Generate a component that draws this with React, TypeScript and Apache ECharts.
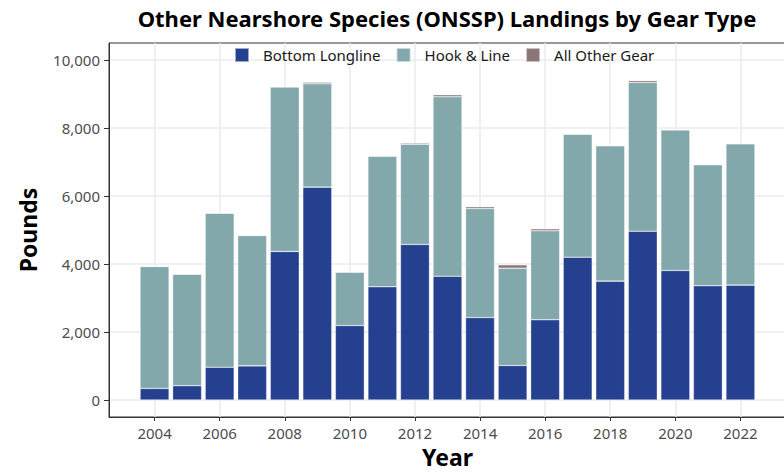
import React, { useEffect, useRef } from 'react';
import * as echarts from 'echarts';

const years = [2004, 2005, 2006, 2007, 2008, 2009, 2010, 2011, 2012, 2013, 2014, 2015, 2016, 2017, 2018, 2019, 2020, 2021, 2022];
const bottomLongline = [340, 420, 965, 1005, 4370, 6260, 2190, 3330, 4575, 3640, 2425, 1015, 2360, 4200, 3495, 4965, 3810, 3360, 3380];
const hookAndLine = [3586, 3280, 4529, 3833, 4840, 3040, 1570, 3841, 2949, 5278, 3207, 2861, 2616, 3618, 3981, 4373, 4136, 3557, 4155];
const allOtherGear = [0, 0, 0, 0, 0, 45, 15, 10, 35, 60, 55, 100, 60, 10, 10, 55, 10, 15, 0];
const seriesNames = ['Bottom Longline', 'Hook & Line', 'All Other Gear'];
const seriesColors = ['#24408F', '#82A8AC', '#8A7676'];
const xTickValues = [2004, 2006, 2008, 2010, 2012, 2014, 2016, 2018, 2020, 2022];
const yTickValues = [0, 2000, 4000, 6000, 8000, 10000];

export default function App() {
  const ref = useRef<HTMLDivElement>(null);
  useEffect(() => {
    document.body.style.margin = '0';
    const chart = echarts.init(ref.current!, null, { renderer: 'svg' });
    const font = '"Noto Sans", sans-serif';
    const valuesList = [bottomLongline, hookAndLine, allOtherGear];
    const series = seriesNames.map((name, k) => ({
      name,
      type: 'bar',
      stack: 'total',
      barWidth: 29,
      // value first so that the value dimension is the stacked one
      data: years.map((y, i) => [valuesList[k][i], y]),
      encode: { x: 1, y: 0 },
      itemStyle: { color: seriesColors[k], borderColor: 'rgba(255,255,255,0.55)', borderWidth: 0.6 },
      emphasis: { disabled: true },
    }));
    chart.setOption({
      animation: false,
      textStyle: { fontFamily: font },
      title: {
        text: 'Other Nearshore Species (ONSSP) Landings by Gear Type',
        left: 442,
        textAlign: 'center',
        top: 2,
        textStyle: { fontFamily: font, fontSize: 22, fontWeight: 'bold', color: '#000' },
      },
      legend: {
        data: seriesNames,
        left: 234,
        top: 47,
        padding: 0,
        icon: 'rect',
        itemWidth: 14,
        itemHeight: 14,
        itemGap: 15,
        selectedMode: false,
        textStyle: { fontFamily: font, fontSize: 15, color: '#1a1a1a', padding: [0, 0, 0, 9] },
      },
      grid: {
        left: 109,
        top: 43,
        width: 677,
        height: 374,
        show: true,
        borderColor: '#333',
        borderWidth: 1,
        containLabel: false,
        outerBoundsMode: 'none',
      },
      xAxis: {
        type: 'value',
        min: 2002.6,
        max: 2023.4,
        splitNumber: 10,
        name: 'Year',
        nameLocation: 'middle',
        nameGap: 28,
        nameTextStyle: { fontFamily: font, fontSize: 23, fontWeight: 'bold', color: '#000' },
        axisLine: { show: true, onZero: false, lineStyle: { color: '#333', width: 1 } },
        axisTick: { show: true, length: 4, customValues: xTickValues, lineStyle: { color: '#333' } },
        axisLabel: {
          customValues: xTickValues,
          formatter: (v: number) => String(v),
          fontFamily: font,
          fontSize: 15,
          color: '#4d4d4d',
          margin: 8,
        },
        splitLine: { show: true, lineStyle: { color: '#ebebeb', width: 1.5 } },
      },
      yAxis: {
        type: 'value',
        min: -500,
        max: 10500,
        splitNumber: 5,
        name: 'Pounds',
        nameLocation: 'middle',
        nameGap: 70,
        nameRotate: 90,
        nameTextStyle: { fontFamily: font, fontSize: 23, fontWeight: 'bold', color: '#000' },
        axisLine: { show: true, onZero: false, lineStyle: { color: '#333', width: 1 } },
        axisTick: { show: true, length: 5, customValues: yTickValues, lineStyle: { color: '#333' } },
        axisLabel: {
          customValues: yTickValues,
          formatter: (v: number) => v.toLocaleString('en-US'),
          fontFamily: font,
          fontSize: 15,
          color: '#4d4d4d',
          margin: 9,
        },
        splitLine: { show: true, lineStyle: { color: '#ebebeb', width: 1.5 } },
      },
      series,
    });
    return () => chart.dispose();
  }, []);
  return <div ref={ref} style={{ width: 784, height: 474 }} />;
}
